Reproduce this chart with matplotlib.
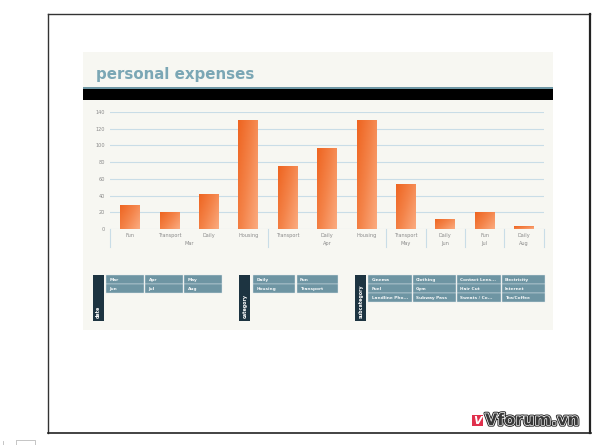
import numpy as np
import matplotlib
matplotlib.use("Agg")
import matplotlib.pyplot as plt
from matplotlib.patches import Rectangle
import matplotlib.patheffects as pe
from matplotlib.colors import LinearSegmentedColormap
import matplotlib.transforms as mtransforms

# ---------------- data ----------------
categories = ["Fun", "Transport", "Daily", "Housing", "Transport", "Daily",
              "Housing", "Transport", "Daily", "Fun", "Daily"]
values = [29, 20, 42, 130, 75, 97, 130, 54, 12, 20, 3]
groups = ["Mar", "Apr", "May", "Jun", "Jul", "Aug"]
group_sizes = [4, 3, 1, 1, 1, 1]
y_ticks = [0, 20, 40, 60, 80, 100, 120, 140]
title = "personal expenses"
date_items = ["Mar", "Apr", "May", "Jun", "Jul", "Aug"]
category_items = ["Daily", "Fun", "Housing", "Transport"]
subcategory_items = ["Cinema", "Clothing", "Contact Lens...", "Electricity",
                     "Fuel", "Gym", "Hair Cut", "Internet",
                     "Landline Pho...", "Subway Pass", "Sweats / Co...", "Tea/Coffee"]

W, H = 600, 445
fig = plt.figure(figsize=(W / 100, H / 100), dpi=100)
fig.patch.set_facecolor("white")

# overlay axes in pixel coordinates
ov = fig.add_axes([0, 0, 1, 1])
ov.set_xlim(0, W)
ov.set_ylim(H, 0)
ov.axis("off")
ov.set_zorder(0)

# outer frame
ov.plot([48.3, 48.3], [14, 433.3], color="#333333", lw=1.0)
ov.plot([48.3, 590], [14, 14], color="#333333", lw=1.0)
ov.plot([590, 590], [14, 433.3], color="#222222", lw=1.6)
ov.plot([48.3, 590.5], [433.3, 433.3], color="#222222", lw=1.2)

# dashboard panel
ov.add_patch(Rectangle((83, 52), 470, 278, facecolor="#f7f7f2", edgecolor="none"))
ov.text(96, 79, title, fontsize=10.8, fontweight="bold", color="#7ba7b5",
        ha="left", va="baseline", family="DejaVu Sans")
ov.add_patch(Rectangle((83, 86.7), 470, 2.0, facecolor="#6e97a5", edgecolor="none"))
ov.add_patch(Rectangle((83, 88.7), 470, 11.3, facecolor="#000000", edgecolor="none"))

# ---------------- chart ----------------
x_left, x_right = 110.3, 543.7
y_top, y_zero = 112.0, 229.0
ax = fig.add_axes([x_left / W, 1 - y_zero / H, (x_right - x_left) / W, (y_zero - y_top) / H])
ax.set_facecolor("none")
ax.set_zorder(2)
n = len(categories)
xs = np.arange(n)

for t in y_ticks:
    ax.axhline(t, color="#c9dde7", lw=0.8, zorder=0)

cmap = LinearSegmentedColormap.from_list("og", ["#ee6420", "#f4844a", "#fbab80"])
bw = 0.5
for x, v in zip(xs, values):
    rect = Rectangle((x - bw / 2, 0), bw, v, facecolor="none", edgecolor="none")
    ax.add_patch(rect)
    gx, gy = np.meshgrid(np.linspace(0, 1, 40), np.linspace(0, 1, 80))
    grad = 0.6 * gx + 0.4 * gy  # row 0 = top: dark top-left, light bottom-right
    im = ax.imshow(grad, cmap=cmap, extent=(x - bw / 2, x + bw / 2, 0, v),
                   origin="upper", aspect="auto", interpolation="bilinear", zorder=2)
    im.set_clip_path(rect)

ax.set_xlim(-0.5, n - 0.5)
ax.set_ylim(0, 140)
ax.set_yticks(y_ticks)
ax.set_yticklabels([str(t) for t in y_ticks], fontsize=3.6, color="#8a8a8a")
ax.tick_params(axis="y", length=0, pad=4)
ax.set_xticks([])
for s in ax.spines.values():
    s.set_visible(False)

trans = mtransforms.blended_transform_factory(ax.transData, ax.transAxes)
ph = y_zero - y_top
for x, c in zip(xs, categories):
    ax.text(x, -(235.5 - y_zero) / ph, c, transform=trans, fontsize=3.6,
            color="#8a8a8a", ha="center", va="center", clip_on=False)
start = 0
bounds = [-0.5]
for g, sz in zip(groups, group_sizes):
    center = start + (sz - 1) / 2.0
    ax.text(center, -(244 - y_zero) / ph, g, transform=trans, fontsize=3.6,
            color="#8a8a8a", ha="center", va="center", clip_on=False)
    start += sz
    bounds.append(start - 0.5)
for b in bounds:
    ax.plot([b, b], [0, -(247.5 - y_zero) / ph], transform=trans, color="#c9dde7",
            lw=0.8, clip_on=False)

# ---------------- slicers ----------------
def slicer(hx, hw, label, items, ncols, bx, bw_, pitch, rows_y, bh=8.5):
    ov.add_patch(Rectangle((hx, 275), hw, 46, facecolor="#1d3441", edgecolor="none"))
    ov.text(hx + hw / 2 + 0.3, 317.5, label, rotation=90, fontsize=3.4, fontweight="bold",
            color="white", ha="center", va="bottom")
    for i, it in enumerate(items):
        r, c = divmod(i, ncols)
        x0 = bx + c * pitch
        y0 = rows_y[r]
        ov.add_patch(Rectangle((x0, y0), bw_, bh, facecolor="#6e95a3",
                               edgecolor="#dfe8ec", lw=0.3))
        ov.text(x0 + 3.5, y0 + bh / 2 + 0.3, it, fontsize=3.1, fontweight="bold",
                color="#f4f7f8", ha="left", va="center")

rows = [275, 284, 293]
slicer(93, 10.5, "date", date_items, 3, 106, 37.5, 39, rows)
slicer(239, 11, "category", category_items, 2, 253, 41.5, 43.5, rows)
slicer(355, 11, "subcategory", subcategory_items, 4, 368, 43.5, 44.5, rows)

# ---------------- watermark ----------------
ov.add_patch(Rectangle((472, 414.5), 10.5, 11, facecolor="#e0304c", edgecolor="none"))
ov.text(477.2, 420.5, "V", fontsize=8, fontweight="bold", color="white",
        ha="center", va="center", style="italic")
ov.text(485, 420.5, "Vforum.vn", fontsize=11.5, fontweight="bold", color="#3a3a3a",
        ha="left", va="center", family="DejaVu Sans",
        path_effects=[pe.Stroke(linewidth=2.4, foreground="#2a2a2a"),
                      pe.Stroke(linewidth=1.0, foreground="white"),
                      pe.Normal()])

# tiny marks at bottom-left
ov.add_patch(Rectangle((15.5, 440), 19, 8, facecolor="none", edgecolor="#bbbbbb", lw=0.6))
ov.plot([3, 3], [441, 445], color="#bbbbbb", lw=0.6)

fig.savefig("out.png", dpi=100, facecolor="white")
